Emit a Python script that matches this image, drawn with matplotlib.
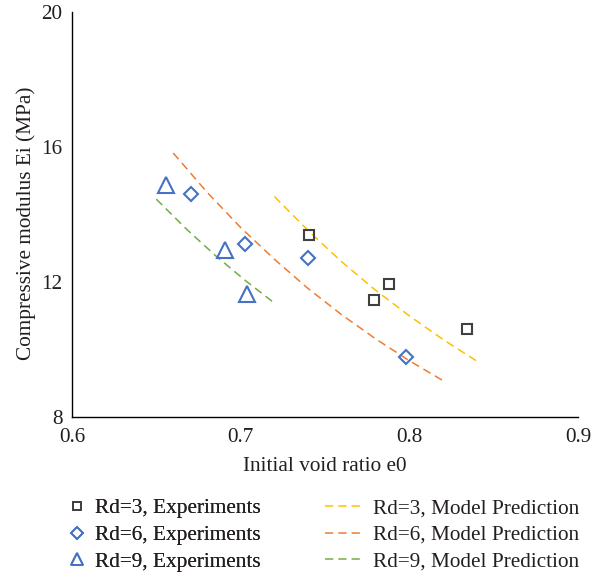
import matplotlib
matplotlib.use("Agg")
import matplotlib.pyplot as plt
from matplotlib.lines import Line2D

plt.rcParams['font.family'] = ['Liberation Serif', 'DejaVu Serif']

# Experimental data
e_rd3 = [0.7405, 0.7877, 0.779, 0.834]
E_rd3 = [13.38, 11.93, 11.47, 10.61]
e_rd6 = [0.6707, 0.7026, 0.7397, 0.798]
E_rd6 = [14.59, 13.11, 12.70, 9.78]
e_rd9 = [0.6556, 0.6907, 0.7038]
E_rd9 = [14.86, 12.93, 11.65]

# Model predictions
m_e_rd3 = [0.72, 0.74, 0.76, 0.78, 0.80, 0.82, 0.84]
m_E_rd3 = [14.53, 13.52, 12.59, 11.75, 10.99, 10.29, 9.65]
m_e_rd6 = [0.66, 0.68, 0.70, 0.72, 0.74, 0.76, 0.78, 0.80, 0.82]
m_E_rd6 = [15.82, 14.66, 13.61, 12.67, 11.80, 11.02, 10.31, 9.66, 9.07]
m_e_rd9 = [0.65, 0.6675, 0.685, 0.7025, 0.72]
m_E_rd9 = [14.45, 13.58, 12.78, 12.05, 11.37]

x_ticks = [0.6, 0.7, 0.8, 0.9]
x_tick_labels = ['0.6', '0.7', '0.8', '0.9']
y_ticks = [8, 12, 16, 20]
y_tick_labels = ['8', '12', '16', '20']

labels_exp = ['Rd=3, Experiments', 'Rd=6, Experiments', 'Rd=9, Experiments']
labels_mod = ['Rd=3, Model Prediction', 'Rd=6, Model Prediction', 'Rd=9, Model Prediction']

TXT = '#231F20'
C_SQ = '#404040'
C_BLUE = '#4472C4'
C_Y = '#FFC000'
C_O = '#ED7D31'
C_G = '#70AD47'
FS = 15.3

fig = plt.figure(figsize=(6.03, 5.74), dpi=100)
ax = fig.add_axes([0.1194, 0.2740, 0.8391, 0.7051])

dash = (5.4, 3.3)
l1, = ax.plot(m_e_rd3, m_E_rd3, color=C_Y, lw=1.1, dashes=dash)
l2, = ax.plot(m_e_rd6, m_E_rd6, color=C_O, lw=1.1, dashes=dash)
l3, = ax.plot(m_e_rd9, m_E_rd9, color=C_G, lw=1.1, dashes=dash)

ax.plot(e_rd3, E_rd3, ls='none', marker='s', ms=6.5, mfc='none', mec=C_SQ, mew=1.5)
ax.plot(e_rd6, E_rd6, ls='none', marker='D', ms=7.6, mfc='none', mec=C_BLUE, mew=1.5)
ax.plot(e_rd9, E_rd9, ls='none', marker='^', ms=11.5, mfc='none', mec=C_BLUE, mew=1.5)

ax.set_xlim(0.6, 0.9)
ax.set_ylim(8, 20)
ax.set_xticks(x_ticks)
ax.set_xticklabels(x_tick_labels)
ax.set_yticks(y_ticks)
ax.set_yticklabels(y_tick_labels)
ax.tick_params(axis='both', length=0, labelsize=FS, labelcolor=TXT)
ax.tick_params(axis='x', pad=8)
ax.tick_params(axis='y', pad=7)
for sp in ['top', 'right']:
    ax.spines[sp].set_visible(False)
for sp in ['left', 'bottom']:
    ax.spines[sp].set_color('black')
    ax.spines[sp].set_linewidth(1.0)

ax.set_xlabel('Initial void ratio e0', fontsize=FS, color=TXT, va='center')
ax.set_ylabel('Compressive modulus Ei (MPa)', fontsize=FS, color=TXT, va='center')
ax.xaxis.set_label_coords(0.5, -0.123)
ax.yaxis.set_label_coords(-0.09, 0.478)

h1 = Line2D([], [], ls='none', marker='s', ms=6.0, mfc='none', mec=C_SQ, mew=1.3)
h2 = Line2D([], [], ls='none', marker='D', ms=6.1, mfc='none', mec=C_BLUE, mew=1.3)
h3 = Line2D([], [], ls='none', marker='^', ms=9.1, mfc='none', mec=C_BLUE, mew=1.3)

leg1 = fig.legend([h1, h2, h3], labels_exp, loc='center left',
                  bbox_to_anchor=(67.5 / 603, 1 - 535 / 574), frameon=False,
                  fontsize=FS, handlelength=0.85, handletextpad=0.45,
                  borderpad=0, borderaxespad=0, labelspacing=0.33)
for t in leg1.get_texts():
    t.set_color(TXT)
leg2 = fig.legend([l1, l2, l3], labels_mod, loc='center left',
                  bbox_to_anchor=(325 / 603, 1 - 535 / 574), frameon=False,
                  fontsize=FS, handlelength=1.65, handletextpad=0.6,
                  borderpad=0, borderaxespad=0, labelspacing=0.33)
for t in leg2.get_texts():
    t.set_color(TXT)
fig.add_artist(leg1)

fig.savefig('out.png', dpi=100)
